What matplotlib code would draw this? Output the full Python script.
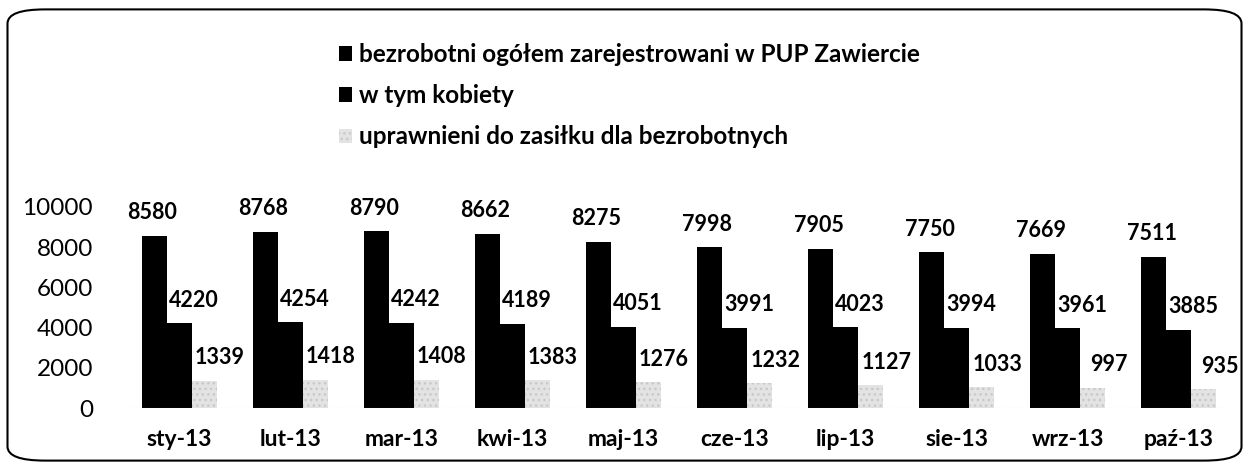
import matplotlib.pyplot as plt
import numpy as np
from matplotlib.patches import FancyBboxPatch

# data
months = ['sty-13', 'lut-13', 'mar-13', 'kwi-13', 'maj-13',
          'cze-13', 'lip-13', 'sie-13', 'wrz-13', 'paź-13']
ogolem = [8580, 8768, 8790, 8662, 8275, 7998, 7905, 7750, 7669, 7511]
kobiety = [4220, 4254, 4242, 4189, 4051, 3991, 4023, 3994, 3961, 3885]
zasilek = [1339, 1418, 1408, 1383, 1276, 1232, 1127, 1033, 997, 935]
series_names = ['bezrobotni ogółem zarejestrowani w PUP Zawiercie',
                'w tym kobiety',
                'uprawnieni do zasiłku dla bezrobotnych']

plt.rcParams['font.family'] = ['Lato', 'DejaVu Sans']
plt.rcParams['hatch.color'] = '#b5b5b5'

fig = plt.figure(figsize=(12.49, 4.70), dpi=100)
ax = fig.add_axes([0.0989, 0.1319, 0.8895, 0.4277])

x = np.arange(len(months))
w = 0.225
b1 = ax.bar(x - w, ogolem, w, color='black', label=series_names[0])
b2 = ax.bar(x, kobiety, w, color='black', label=series_names[1])
b3 = ax.bar(x + w, zasilek, w, color='#e3e3e3', hatch='...',
            edgecolor='#c8c8c8', linewidth=0, label=series_names[2])

# value labels above the bars
for i in range(len(x)):
    ax.text(x[i] - w - 0.02, ogolem[i] + 1150, str(ogolem[i]),
            ha='center', va='center', fontsize=15.5, fontweight='bold')
    ax.text(x[i] + 0.13, kobiety[i] + 1150, str(kobiety[i]),
            ha='center', va='center', fontsize=15.5, fontweight='bold')
    ax.text(x[i] + w + 0.14, zasilek[i] + 1150, str(zasilek[i]),
            ha='center', va='center', fontsize=15.5, fontweight='bold')

ax.set_xlim(-0.5, len(months) - 0.5)
ax.set_ylim(0, 10000)
ax.set_yticks([0, 2000, 4000, 6000, 8000, 10000])
ax.set_xticks(x)
ax.set_xticklabels(months, fontsize=16.5, fontweight='bold')
ax.tick_params(axis='y', labelsize=17.5, length=0, pad=22)
ax.tick_params(axis='x', length=0, pad=15)
for s in ax.spines.values():
    s.set_visible(False)
ax.axhline(0, color='#aaaaaa', lw=0.8, ls=':')

fig.legend(handles=[b1, b2, b3], loc='upper left',
           bbox_to_anchor=(0.254, 0.955), frameon=False,
           prop={'weight': 'bold', 'size': 17.5},
           handlelength=0.55, handleheight=0.55, handletextpad=0.25,
           labelspacing=0.75)

# rounded border around the whole chart
fig.patches.append(FancyBboxPatch((0.006, 0.02), 0.988, 0.96,
                                  boxstyle='round,pad=0,rounding_size=0.03',
                                  transform=fig.transFigure, fill=False,
                                  edgecolor='black', lw=1.5))

fig.savefig('out.png', dpi=100)
